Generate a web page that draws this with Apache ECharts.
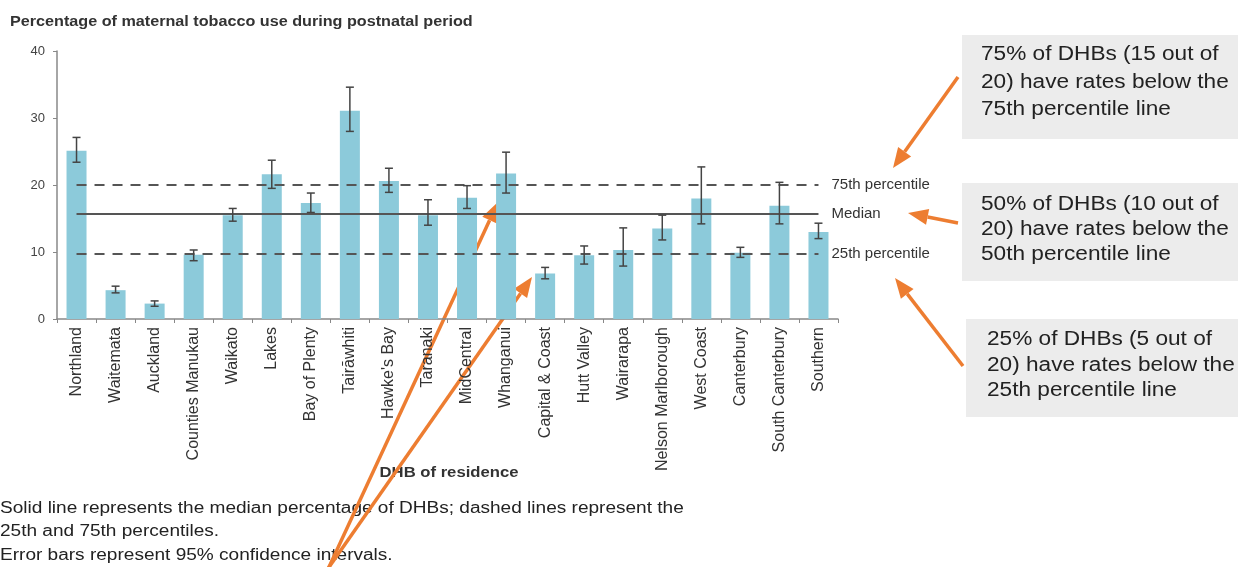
<!DOCTYPE html>
<html>
<head>
<meta charset="utf-8">
<script src="https://cdn.jsdelivr.net/npm/echarts@6.0.0/dist/echarts.min.js"></script>
<style>
  html, body { margin: 0; padding: 0; background: #fff; }
  #chart { width: 1238px; height: 567px; }
</style>
</head>
<body>
<div id="chart"></div>
<script>
// DHB values (percent)
var dhbs = ['Northland', 'Waitemata', 'Auckland', 'Counties Manukau', 'Waikato', 'Lakes',
  'Bay of Plenty', 'Tairāwhiti', "Hawke's Bay", 'Taranaki', 'MidCentral', 'Whanganui',
  'Capital & Coast', 'Hutt Valley', 'Wairarapa', 'Nelson Marlborough', 'West Coast',
  'Canterbury', 'South Canterbury', 'Southern'];
var rates  = [25.1, 4.3, 2.3, 9.6, 15.5, 21.6, 17.3, 31.1, 20.6, 15.5, 18.1, 21.7, 6.8, 9.5, 10.3, 13.5, 18.0, 9.9, 16.9, 13.0];
var ciLow  = [23.4, 3.9, 1.9, 8.7, 14.6, 19.5, 15.9, 28.0, 18.9, 14.0, 16.5, 18.8, 6.0, 8.2, 7.9, 11.8, 14.2, 9.2, 14.2, 12.0];
var ciHigh = [27.1, 4.9, 2.7, 10.3, 16.5, 23.7, 18.8, 34.6, 22.5, 17.8, 19.9, 24.9, 7.7, 10.9, 13.6, 15.5, 22.7, 10.7, 20.4, 14.3];
var refValues = [20.0, 15.65, 9.7];
var refNames = ['75th percentile', 'Median', '25th percentile'];
var yMin = 0, yMax = 40, yStep = 10;

var font = 'Liberation Sans, Arial, sans-serif';
var orange = '#ED7D31';
var stretch = 1.19;   // the source picture is a bit wider than tall

var chart = echarts.init(document.getElementById('chart'));

var errData = dhbs.map(function (d, i) { return [i, ciLow[i], ciHigh[i]]; });

function arrow(x1, y1, x2, y2) {
  var dx = x2 - x1, dy = y2 - y1;
  var len = Math.sqrt(dx * dx + dy * dy);
  var ux = dx / len, uy = dy / len;
  var hl = 20, hw = 8;
  var bx = x2 - ux * hl, by = y2 - uy * hl;
  return [
    { type: 'line', shape: { x1: x1, y1: y1, x2: bx, y2: by }, style: { stroke: orange, lineWidth: 3.5 } },
    { type: 'polygon', shape: { points: [[x2, y2], [bx - uy * hw, by + ux * hw], [bx + uy * hw, by - ux * hw]] }, style: { fill: orange } }
  ];
}

function wideText(t, x, y, f, color, align, sx) {
  return { type: 'text', x: x, y: y, scaleX: sx || stretch,
    style: { text: t, font: f, fill: color, align: align || 'left', verticalAlign: 'middle' } };
}

function noteBox(x, y, w, h, lines, tx, ty, lh) {
  var items = [{ type: 'rect', shape: { x: x, y: y, width: w, height: h }, style: { fill: '#ececec' } }];
  lines.forEach(function (t, i) {
    items.push(wideText(t, tx, ty + i * lh, '19.5px ' + font, '#222', 'left', 1.16));
  });
  return items;
}

var footnotes = [
  'Solid line represents the median percentage of DHBs; dashed lines represent the',
  '25th and 75th percentiles.',
  'Error bars represent 95% confidence intervals.'
];
var footY = [509, 532, 556];

var graphics = [
  wideText('Percentage of maternal tobacco use during postnatal period', 10, 22, 'bold 14px ' + font, '#333', 'left', 1.155),
  wideText('DHB of residence', 449, 473, 'bold 14px ' + font, '#333', 'center')
];
footnotes.forEach(function (t, i) {
  graphics.push(wideText(t, 0, footY[i], '16px ' + font, '#222'));
});
graphics = graphics
  .concat(noteBox(962, 35, 280, 104, ['75% of DHBs (15 out of', '20) have rates below the', '75th percentile line'], 981, 55, 27.5))
  .concat(noteBox(962, 183, 280, 98, ['50% of DHBs (10 out of', '20) have rates below the', '50th percentile line'], 981, 205, 25))
  .concat(noteBox(966, 319, 280, 98, ['25% of DHBs (5 out of', '20) have rates below the', '25th percentile line'], 987, 340, 25.5))
  .concat(arrow(958, 77, 893, 168))
  .concat(arrow(958, 223, 908, 213))
  .concat(arrow(963, 366, 895, 278))
  .concat(arrow(323, 580, 498, 202))
  .concat(arrow(320, 580, 532, 277));

var option = {
  animation: false,
  grid: { left: 57, right: 400, top: 51, bottom: 248 },
  xAxis: {
    type: 'category',
    data: dhbs,
    axisLine: { lineStyle: { color: '#888', width: 1.5 } },
    axisTick: { show: true, length: 4, lineStyle: { color: '#888' } },
    axisLabel: { rotate: 90, margin: 8, fontFamily: font, fontSize: 16, color: '#333', interval: 0 }
  },
  yAxis: {
    type: 'value',
    min: yMin, max: yMax, interval: yStep,
    axisLine: { show: true, lineStyle: { color: '#888', width: 1.5 } },
    axisTick: { show: true, length: 4, lineStyle: { color: '#888' } },
    splitLine: { show: false },
    axisLabel: { margin: 12, fontFamily: font, fontSize: 13, color: '#444' }
  },
  series: [
    {
      type: 'bar',
      data: rates,
      barWidth: 20,
      itemStyle: { color: '#8ccada' },
      markLine: {
        symbol: ['none', 'none'],
        silent: true,
        label: { show: true, position: 'end', distance: 13, fontFamily: font, fontSize: 15, color: '#333' },
        data: refValues.map(function (v, i) {
          return [
            { coord: [0, v], lineStyle: { color: '#555', width: 2, type: i === 1 ? 'solid' : [10, 8] },
              label: { formatter: refNames[i] } },
            { coord: [dhbs.length - 1, v] }
          ];
        })
      }
    },
    {
      type: 'custom',
      data: errData,
      z: 5,
      renderItem: function (params, api) {
        var x = api.value(0);
        var lo = api.coord([x, api.value(1)]);
        var hi = api.coord([x, api.value(2)]);
        var cap = 4;
        var st = { stroke: '#444', lineWidth: 1.5 };
        return {
          type: 'group',
          children: [
            { type: 'line', shape: { x1: lo[0], y1: lo[1], x2: hi[0], y2: hi[1] }, style: st },
            { type: 'line', shape: { x1: hi[0] - cap, y1: hi[1], x2: hi[0] + cap, y2: hi[1] }, style: st },
            { type: 'line', shape: { x1: lo[0] - cap, y1: lo[1], x2: lo[0] + cap, y2: lo[1] }, style: st }
          ]
        };
      }
    }
  ],
  graphic: graphics
};

chart.setOption(option);
</script>
</body>
</html>
